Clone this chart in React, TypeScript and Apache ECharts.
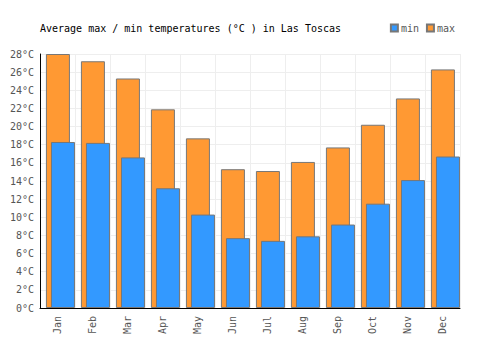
import React, { useEffect, useRef } from "react";
import * as echarts from "echarts";

const months = ["Jan", "Feb", "Mar", "Apr", "May", "Jun", "Jul", "Aug", "Sep", "Oct", "Nov", "Dec"];
const maxTemps = [28.0, 27.2, 25.3, 21.9, 18.7, 15.3, 15.1, 16.1, 17.7, 20.2, 23.1, 26.3];
const minTemps = [18.3, 18.2, 16.6, 13.2, 10.3, 7.7, 7.4, 7.9, 9.2, 11.5, 14.1, 16.7];
const titleText = "Average max / min temperatures (°C ) in Las Toscas";

const FONT = "'DejaVu Sans Mono', monospace";

export default function App() {
  const ref = useRef<HTMLDivElement>(null);
  useEffect(() => {
    if (!ref.current) return;
    const chart = echarts.init(ref.current, undefined, { renderer: "svg" });
    chart.setOption({
      animation: false,
      backgroundColor: "#ffffff",
      title: {
        text: titleText,
        left: 35,
        top: 18,
        textStyle: { fontFamily: FONT, fontSize: 10, fontWeight: "normal", color: "#000" },
      },
      legend: {
        data: ["min", "max"],
        right: 40,
        top: 18,
        itemWidth: 7,
        itemHeight: 7,
        itemGap: 7,
        icon: "rect",
        textStyle: { fontFamily: FONT, fontSize: 10, color: "#555", padding: [0, 0, 0, -2] },
      },
      grid: { left: 40, right: 40, top: 54, bottom: 42, containLabel: false },
      xAxis: {
        type: "category",
        data: months,
        axisLine: { show: true, lineStyle: { color: "#000", width: 1 } },
        axisTick: { show: false },
        axisLabel: { rotate: 90, fontFamily: FONT, fontSize: 10, color: "#555", margin: 8 },
        splitLine: { show: true, lineStyle: { color: "#eeeeee", width: 1 } },
      },
      yAxis: {
        type: "value",
        min: 0,
        max: 28,
        interval: 2,
        axisLine: { show: true, lineStyle: { color: "#000", width: 1 } },
        axisTick: { show: false },
        axisLabel: { formatter: "{value}°C", fontFamily: FONT, fontSize: 10, color: "#555", margin: 6 },
        splitLine: { show: true, lineStyle: { color: "#eeeeee", width: 1 } },
      },
      series: [
        {
          name: "spacer",
          type: "bar",
          data: months.map(() => null),
          barWidth: 28,
          silent: true,
        },
        {
          name: "max",
          type: "bar",
          data: maxTemps,
          barWidth: 24,
          barGap: "-79%",
          itemStyle: { color: "#ff9933", borderColor: "#777777", borderWidth: 1 },
        },
        {
          name: "min",
          type: "bar",
          data: minTemps,
          barWidth: 24,
          itemStyle: { color: "#3399ff", borderColor: "#777777", borderWidth: 1 },
        },
      ],
    });
    return () => chart.dispose();
  }, []);
  return (
    <div
      ref={ref}
      style={{ position: "fixed", left: 0, top: 0, width: 500, height: 350 }}
    />
  );
}
